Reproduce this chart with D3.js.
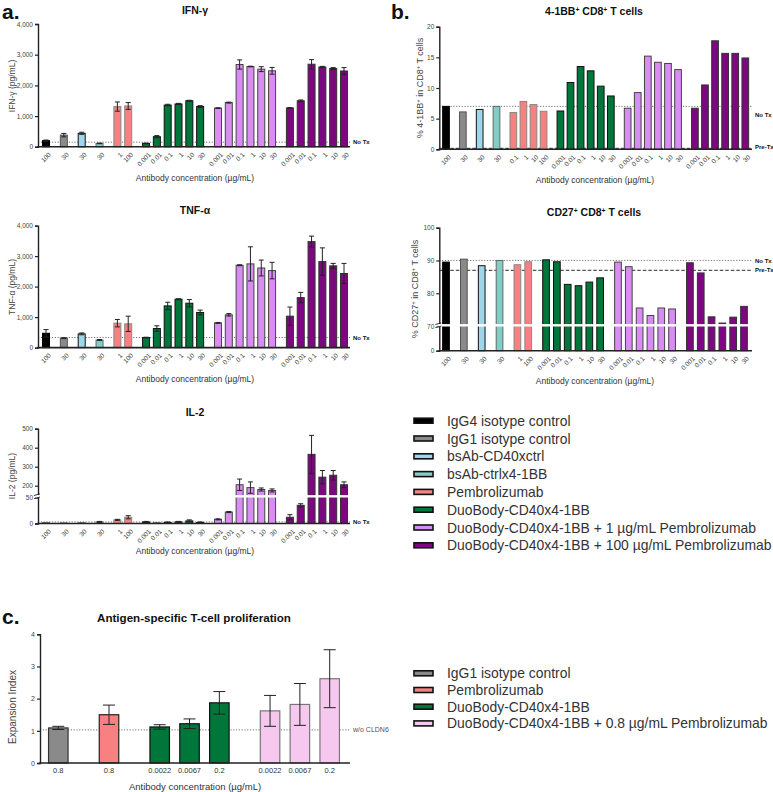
<!DOCTYPE html>
<html><head><meta charset="utf-8">
<script src="https://cdn.jsdelivr.net/npm/d3@7"></script>
<style>body{margin:0;background:#fff;} svg{display:block;font-family:Arial,"Liberation Sans",sans-serif;}</style>
</head><body><svg id="c" width="773" height="792"></svg>
<script>
// ---------- series ----------
const seriesNames = ["IgG4 isotype control","IgG1 isotype control","bsAb-CD40xctrl","bsAb-ctrlx4-1BB","Pembrolizumab","DuoBody-CD40x4-1BB","DuoBody-CD40x4-1BB + 1 µg/mL Pembrolizumab","DuoBody-CD40x4-1BB + 100 µg/mL Pembrolizumab"];
const seriesFill = ["#000000","#8a8a8a","#9fd6ea","#80cfc4","#f88080","#00763a","#d98cf2","#7d077f"];
const seriesStroke = ["#000000","#555555","#111111","#666666","#888888","#111111","#444444","#333333"];

// ---------- panel a ----------
const barSeriesA = [0,1,2,3,4,4,5,5,5,5,5,5,6,6,6,6,6,6,7,7,7,7,7,7];
const concA = ["100","30","30","30","1","100","0.001","0.01","0.1","1","10","30","0.001","0.01","0.1","1","10","30","0.001","0.01","0.1","1","10","30"];
const ifngMean = [200,380,440,110,1310,1330,110,330,1360,1395,1500,1310,1260,1440,2680,2615,2530,2475,1265,1500,2690,2600,2550,2470];
const ifngErr  = [20,55,35,10,150,110,10,35,25,20,15,30,10,15,150,10,80,110,10,25,150,20,30,110];
const tnfMean  = [470,310,450,250,800,780,330,625,1367,1587,1455,1150,810,1075,2700,2745,2610,2525,1030,1640,3475,2820,2680,2430];
const tnfErr   = [120,15,30,15,120,250,10,90,120,15,120,80,15,40,15,560,260,270,300,170,180,450,80,330];
const il2Mean  = [1,1,1,3,7,12,3,1,2,3,5,2,8,22,205,190,180,175,12,35,365,245,255,205];
const il2Err   = [0,0,0,1,1,3,1,0,1,1,2,1,1,1,30,30,8,8,5,3,100,35,25,15];
const noTxA = {ifng:150, tnf:330, il2:3};
const ticksA = [0,1000,2000,3000,4000];
const ticksIL2 = [0,50,200,300,400,500];

// ---------- panel b ----------
const barSeriesB1 = [0,1,2,3,4,4,4,4,5,5,5,5,5,5,6,6,6,6,6,6,7,7,7,7,7,7];
const concB1 = ["100","30","30","30","0.1","1","10","100","0.001","0.01","0.1","1","10","30","0.001","0.01","0.1","1","10","30","0.001","0.01","0.1","1","10","30"];
const cd137Pct = [7.0,6.1,6.5,7.0,6.0,7.8,7.3,6.2,6.25,10.9,13.5,12.8,10.3,8.7,6.7,9.25,15.2,14.2,14.0,13.0,6.7,10.5,17.7,15.65,15.65,14.9];
const ticksB1 = [0,5,10,15,20];
const barSeriesB2 = barSeriesA;
const concB2 = concA;
const cd27Pct = [89.5,90.4,88.4,90.0,88.7,89.6,90.2,89.6,82.7,82.3,83.4,84.7,89.5,88.1,75.5,73.2,75.5,75.2,89.3,86.2,72.8,70.9,72.7,76.0];
const ticksB2 = [0,70,80,90,100];
const refB1 = {noTx:7.0, preTx:0.15};
const refB2 = {noTx:90.0, preTx:87.0};

// ---------- panel c ----------
const seriesNamesC = ["IgG1 isotype control","Pembrolizumab","DuoBody-CD40x4-1BB","DuoBody-CD40x4-1BB + 0.8 µg/mL Pembrolizumab"];
const seriesFillC = ["#8a8a8a","#f88080","#00763a","#f7c8ef"];
const seriesStrokeC = ["#333333","#222222","#111111","#777777"];
const barSeriesC = [0,1,2,2,2,3,3,3];
const concC = ["0.8","0.8","0.0022","0.0067","0.2","0.0022","0.0067","0.2"];
const expMean = [1.09,1.50,1.12,1.22,1.87,1.62,1.82,2.62];
const expErr  = [0.05,0.30,0.07,0.15,0.35,0.48,0.65,0.90];
const ticksC = [0,1,2,3,4];
const refC = 1.03;

// ---------- helpers ----------
const svg = d3.select("#c");
function layout(series, gap){
  const pos=[]; let p=0;
  series.forEach((s,i)=>{ if(i>0) p += (s===series[i-1])?1:gap; pos.push(p); });
  return pos;
}
function text(g, x, y, str, o={}){
  const t = g.append("text").attr("x",x).attr("y",y).text(str)
    .attr("font-size",o.size||8).attr("fill",o.fill||"#222")
    .attr("text-anchor",o.anchor||"start").attr("font-weight",o.weight||"normal");
  return t;
}
function richText(g, x, y, parts, o={}){
  const t = g.append("text").attr("x",x).attr("y",y)
    .attr("font-size",o.size||8).attr("fill",o.fill||"#222")
    .attr("text-anchor",o.anchor||"start").attr("font-weight",o.weight||"normal");
  if(o.rotate) t.attr("transform",`rotate(${o.rotate},${x},${y})`);
  parts.forEach(p=>{
    if(typeof p==="string") t.append("tspan").text(p);
    else t.append("tspan").text(p.sup).attr("baseline-shift","super").attr("font-size",(o.size||8)*0.65);
  });
  return t;
}

function drawPanel(cfg){
  const g = svg.append("g");
  const pos = layout(cfg.series, cfg.gap);
  const x = d3.scaleLinear().domain([0,pos[pos.length-1]]).range([cfg.xFirst,cfg.xLast]);
  const y = cfg.y;
  const y0 = y(0);
  (cfg.refs||[]).forEach(r=>{
    g.append("line").attr("x1",cfg.axisX).attr("x2",cfg.xEnd).attr("y1",y(r.v)).attr("y2",y(r.v))
      .attr("stroke",r.dash==="dot"?"#666":"#555").attr("stroke-width",r.dash==="dot"?0.9:1.3)
      .attr("stroke-dasharray",r.dash==="dot"?"1.2,1.6":"3.5,2");
    text(g, cfg.xEnd+(r.dx||3), y(r.v)+2.2+(r.dy||0), r.label, {size:r.size||6, weight:r.bold?"bold":"normal", fill:r.bold?"#111":"#555"});
  });
  g.selectAll("rect.bar").data(cfg.values).join("rect").attr("class","bar")
    .attr("x",(d,i)=>x(pos[i])-cfg.bw/2).attr("y",d=>y(d))
    .attr("width",cfg.bw).attr("height",d=>Math.max(0,y0-y(d)))
    .attr("fill",(d,i)=>cfg.fill[cfg.series[i]])
    .attr("stroke",(d,i)=>cfg.stroke[cfg.series[i]]).attr("stroke-width",cfg.sw||1);
  if(cfg.errs){
    cfg.values.forEach((v,i)=>{
      const e = cfg.errs[i]; if(!e) return;
      const cx = x(pos[i]), cw = cfg.cap;
      const col = "#222";
      g.append("line").attr("x1",cx).attr("x2",cx).attr("y1",y(v+e)).attr("y2",y(Math.max(0,v-e))).attr("stroke",col).attr("stroke-width",1);
      g.append("line").attr("x1",cx-cw/2).attr("x2",cx+cw/2).attr("y1",y(v+e)).attr("y2",y(v+e)).attr("stroke",col).attr("stroke-width",1);
      g.append("line").attr("x1",cx-cw/2).attr("x2",cx+cw/2).attr("y1",y(Math.max(0,v-e))).attr("y2",y(Math.max(0,v-e))).attr("stroke",col).attr("stroke-width",1);
    });
  }
  if(cfg.breakY){
    g.append("rect").attr("x",cfg.axisX-4).attr("y",cfg.breakY-1.2).attr("width",cfg.xEnd-cfg.axisX+4).attr("height",2.4).attr("fill","#fff");
  }
  const ya = g.append("g").attr("transform",`translate(${cfg.axisX},0)`)
    .call(d3.axisLeft(y).tickValues(cfg.ticks).tickFormat(cfg.fmt||d3.format(",")).tickSize(3).tickPadding(2));
  ya.select(".domain").attr("stroke","#222").attr("stroke-width",1.4);
  ya.selectAll(".tick line").attr("stroke","#222").attr("stroke-width",1.2);
  ya.selectAll(".tick text").attr("font-size",cfg.tickSize||6.5).attr("fill","#444").attr("font-family","Arial");
  if(cfg.breakY){
    ya.append("rect").attr("x",-4).attr("y",cfg.breakY-1.2).attr("width",6).attr("height",2.4).attr("fill","#fff");
    [-1.6,1.6].forEach(d=>ya.append("line").attr("x1",-4).attr("x2",2).attr("y1",cfg.breakY+d+0.8).attr("y2",cfg.breakY+d-0.8).attr("stroke","#222").attr("stroke-width",0.9));
  }
  g.append("line").attr("x1",cfg.axisX-0.7).attr("x2",cfg.xEnd).attr("y1",y0).attr("y2",y0).attr("stroke","#222").attr("stroke-width",1.6);
  cfg.labels.forEach((l,i)=>{
    const cx = x(pos[i]);
    if(cfg.flatLabels){
      text(g, cx, y0+10, l, {size:cfg.labelSize||7, anchor:"middle", fill:"#333"});
    } else {
      const t = text(g, cx+2, y0+5, l, {size:6.5, anchor:"end", fill:"#444"});
      t.attr("transform",`rotate(-45,${cx+2},${y0+5})`).attr("dominant-baseline","hanging");
    }
  });
  if(cfg.title) richText(g, cfg.titleX, cfg.titleY, cfg.title, {size:cfg.titleSize||10.5, weight:"bold", anchor:"middle", fill:"#111"});
  text(g, cfg.xTitleX, cfg.xTitleY, "Antibody concentration (µg/mL)", {size:cfg.xTitleSize||8.5, anchor:"middle", fill:"#333"});
  richText(g, cfg.yTitleX, cfg.yTitleY, cfg.yTitle, {size:cfg.yTitleSize||8.5, anchor:"middle", fill:"#444", rotate:-90});
}

// ---------- panel a ----------
const baseA = {series:barSeriesA, gap:1.65, xFirst:46, xLast:344, axisX:38, xEnd:350, bw:7, cap:5,
  fill:seriesFill, stroke:seriesStroke, labels:concA, ticks:ticksA, xTitleX:195, yTitleX:15};
drawPanel(Object.assign({}, baseA, {
  y:d3.scaleLinear().domain([0,4000]).range([146.8,24]), values:ifngMean, errs:ifngErr,
  refs:[{v:noTxA.ifng, label:"No Tx", bold:true, dash:"dot"}],
  title:["IFN-γ"], titleX:195, titleY:14, xTitleY:181, yTitle:["IFN-γ (pg/mL)"], yTitleY:86}));
drawPanel(Object.assign({}, baseA, {
  y:d3.scaleLinear().domain([0,4000]).range([347.6,225.6]), values:tnfMean, errs:tnfErr,
  refs:[{v:noTxA.tnf, label:"No Tx", bold:true, dash:"dot"}],
  title:["TNF-α"], titleX:195, titleY:214, xTitleY:382, yTitle:["TNF-α (pg/mL)"], yTitleY:287}));
drawPanel(Object.assign({}, baseA, {
  y:d3.scaleLinear().domain([0,50,150,500]).range([523.5,497.5,495.2,428.7]), values:il2Mean, errs:il2Err, ticks:ticksIL2,
  refs:[{v:noTxA.il2, label:"No Tx", bold:true, dash:"dot"}], breakY:496.3,
  title:["IL-2"], titleX:195, titleY:416, xTitleY:554, yTitle:["IL-2 (pg/mL)"], yTitleY:476}));

// ---------- panel b ----------
drawPanel({series:barSeriesB1, gap:1.67, xFirst:446, xLast:745.3, axisX:439.3, xEnd:752, bw:6.7, cap:0,
  fill:seriesFill, stroke:seriesStroke, labels:concB1, ticks:ticksB1, fmt:d3.format("d"),
  y:d3.scaleLinear().domain([0,20]).range([149.3,26.7]), values:cd137Pct,
  refs:[{v:refB1.noTx, label:"No Tx", bold:true, dash:"dot", dy:8},{v:refB1.preTx, label:"Pre-Tx", bold:true, dash:"dash", dy:-1.5}],
  title:["4-1BB",{sup:"+"}," CD8",{sup:"+"}," T cells"], titleX:594, titleY:15, titleSize:10.5,
  xTitleX:595, xTitleY:183, yTitle:["% 4-1BB",{sup:"+"}," in CD8",{sup:"+"}," T cells"], yTitleX:423, yTitleY:88, yTitleSize:9});
drawPanel({series:barSeriesB2, gap:1.65, xFirst:446, xLast:744, axisX:439.3, xEnd:752, bw:6.7, cap:0,
  fill:seriesFill, stroke:seriesStroke, labels:concB2, ticks:ticksB2, fmt:d3.format("d"),
  y:d3.scaleLinear().domain([0,70,100]).range([350.7,326,227.7]), values:cd27Pct, breakY:325.3,
  refs:[{v:refB2.noTx, label:"No Tx", bold:true, dash:"dot"},{v:refB2.preTx, label:"Pre-Tx", bold:true, dash:"dash"}],
  title:["CD27",{sup:"+"}," CD8",{sup:"+"}," T cells"], titleX:594, titleY:216, titleSize:10.5,
  xTitleX:595, xTitleY:384, yTitle:["% CD27",{sup:"+"}," in CD8",{sup:"+"}," T cells"], yTitleX:418, yTitleY:289, yTitleSize:9});

// ---------- panel c ----------
drawPanel({series:barSeriesC, gap:1.7, xFirst:58.3, xLast:329.7, axisX:40, xEnd:350, bw:19.5, cap:12, sw:1.2,
  fill:seriesFillC, stroke:seriesStrokeC, labels:concC, ticks:ticksC, fmt:d3.format("d"), tickSize:7,
  flatLabels:true, labelSize:7.5,
  y:d3.scaleLinear().domain([0,4]).range([763,634.3]), values:expMean, errs:expErr,
  refs:[{v:refC, label:"w/o CLDN6", bold:false, dash:"dot", size:7}],
  title:["Antigen-specific T-cell proliferation"], titleX:194, titleY:622, titleSize:11.6,
  xTitleX:195, xTitleY:790, xTitleSize:9.5, yTitle:["Expansion Index"], yTitleX:16, yTitleY:707, yTitleSize:10});

// ---------- panel letters ----------
text(svg, 2, 19, "a.", {size:21, weight:"bold", fill:"#111"});
text(svg, 391, 19, "b.", {size:21, weight:"bold", fill:"#111"});
text(svg, 2, 624, "c.", {size:21, weight:"bold", fill:"#111"});

// ---------- legends ----------
function legend(names, fills, x, y0, step){
  const g = svg.append("g");
  names.forEach((n,i)=>{
    const yy = y0 + i*step;
    g.append("rect").attr("x",x).attr("y",yy-2.5).attr("width",19).attr("height",5)
      .attr("fill",fills[i]).attr("stroke","#111").attr("stroke-width",1.6);
    text(g, x+33, yy+5, n, {size:13.9, fill:"#333"});
  });
}
legend(seriesNames, seriesFill, 414, 420.7, 17.8);
legend(seriesNamesC, seriesFillC, 414, 673.3, 16.7);
</script></body></html>
